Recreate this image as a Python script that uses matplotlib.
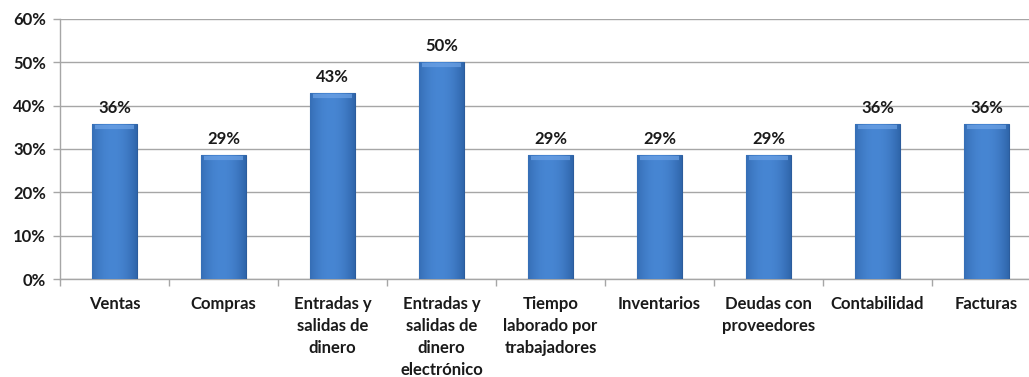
import numpy as np
import matplotlib
matplotlib.use("Agg")
import matplotlib.pyplot as plt
from matplotlib.ticker import FuncFormatter, FixedLocator

# data
categories = ["Ventas", "Compras", "Entradas y\nsalidas de\ndinero",
              "Entradas y\nsalidas de\ndinero\nelectrónico",
              "Tiempo\nlaborado por\ntrabajadores", "Inventarios",
              "Deudas con\nproveedores", "Contabilidad", "Facturas"]
values = [0.357, 0.286, 0.429, 0.50, 0.286, 0.286, 0.286, 0.357, 0.357]
labels = ["36%", "29%", "43%", "50%", "29%", "29%", "29%", "36%", "36%"]

plt.rcParams["font.family"] = ["Lato", "DejaVu Sans"]
text_color = "#1a1a1a"
grid_color = "#a6a6a6"
fs = 12

fig = plt.figure(figsize=(10.29, 3.77), dpi=100)
ax = fig.add_axes([60 / 1029, 98 / 377, 981 / 1029, 260 / 377])

x = np.arange(len(categories))
bw = 0.41
bars = ax.bar(x, values, bw, color="#3d7ac9", edgecolor="#2c5c9c",
              linewidth=0.8, zorder=3)

# horizontal shading on each bar, like the spreadsheet bevel
grad = np.linspace(0, 1, 64)
shade = 1 - 0.55 * (2 * grad - 1) ** 2
shade = shade * 0.85 + 0.15 * (1 - grad)
cmap = matplotlib.colors.LinearSegmentedColormap.from_list(
    "bevel", ["#1f4f8f", "#4a8ad8"])
for b in bars:
    x0, y0 = b.get_x(), b.get_y()
    w, h = b.get_width(), b.get_height()
    im = ax.imshow(shade[np.newaxis, :], cmap=cmap, aspect="auto",
                   extent=(x0, x0 + w, y0, y0 + h), zorder=3.5,
                   vmin=0, vmax=1, interpolation="bicubic")
    im.set_clip_path(b)
    # lighter top edge
    ax.plot([x0 + w * 0.06, x0 + w * 0.94], [y0 + h - 0.006] * 2,
            color="#6ea3e6", linewidth=3, zorder=4, solid_capstyle="butt",
            alpha=0.7)

for xi, v, lab in zip(x, values, labels):
    ax.annotate(lab, (xi, v), xytext=(0, 6), textcoords="offset points",
                ha="center", va="bottom", fontsize=fs, fontweight="bold",
                color=text_color)

ax.set_xlim(-0.5, len(categories) - 0.5)
ax.set_ylim(0, 0.6)
ax.set_yticks(np.arange(0, 0.61, 0.1))
ax.yaxis.set_major_formatter(FuncFormatter(lambda v, p: f"{v * 100:.0f}%"))
ax.yaxis.grid(True, color=grid_color, linewidth=1.0, zorder=0)
ax.set_axisbelow(True)

ax.set_xticks(x)
ax.set_xticklabels(categories, fontsize=fs, fontweight="bold",
                   color=text_color, linespacing=1.48, va="top")
ax.xaxis.set_minor_locator(FixedLocator(np.arange(-0.5, len(categories), 1)))
ax.tick_params(axis="x", which="major", length=0, pad=12)
ax.tick_params(axis="x", which="minor", length=5, color=grid_color, width=1)
ax.tick_params(axis="y", length=5, color=grid_color, width=1, pad=5,
               labelsize=fs, labelcolor=text_color)
for lab in ax.get_yticklabels():
    lab.set_fontweight("bold")

for s in ["top", "right"]:
    ax.spines[s].set_visible(False)
for s in ["left", "bottom"]:
    ax.spines[s].set_color(grid_color)
    ax.spines[s].set_linewidth(1.0)

fig.savefig("out.png", dpi=100)
plt.close("all")
